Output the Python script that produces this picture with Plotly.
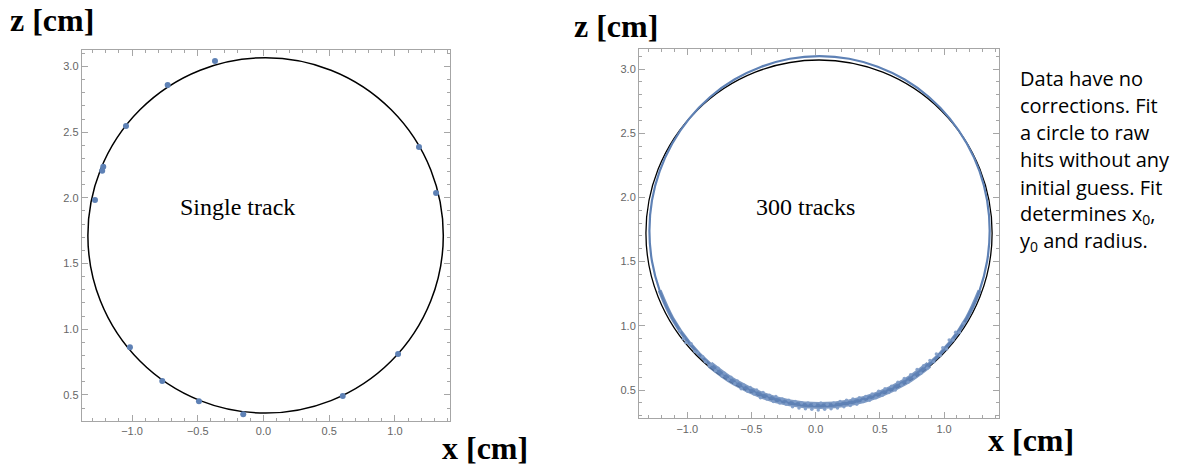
import plotly.graph_objects as go

# ---------------- data ----------------
# single track hits (left panel)
single_x = [-0.369, -0.729, -1.046, -1.219, -1.227, -1.282, -1.016, -0.770,
            -0.491, -0.154, 0.603, 1.024, 1.183, 1.313]
single_z = [3.042, 2.859, 2.547, 2.237, 2.207, 1.984, 0.863, 0.607,
            0.452, 0.353, 0.492, 0.811, 2.387, 2.037]
# fitted circle (left): centre and radius
fit1_x0, fit1_z0, fit1_r = 0.016, 1.714, 1.352

# 300 tracks: hit ring outline (right panel), every 10 degrees
ring_x = [1.355, 1.335, 1.276, 1.177, 1.045, 0.882, 0.693, 0.483, 0.261, 0.030,
          -0.201, -0.423, -0.633, -0.822, -0.985, -1.117, -1.215, -1.275, -1.295,
          -1.275, -1.215, -1.117, -0.985, -0.822, -0.633, -0.423, -0.201, 0.030,
          0.261, 0.483, 0.693, 0.882, 1.045, 1.177, 1.276, 1.335, 1.355]
ring_z = [1.740, 1.977, 2.205, 2.420, 2.614, 2.782, 2.918, 3.018, 3.080, 3.100,
          3.080, 3.018, 2.918, 2.782, 2.614, 2.420, 2.205, 1.977, 1.740,
          1.503, 1.275, 1.060, 0.866, 0.698, 0.562, 0.462, 0.400, 0.380,
          0.400, 0.462, 0.562, 0.698, 0.866, 1.060, 1.275, 1.503, 1.740]
# scattered hits in the lower band (right panel)
band_x = [-1.06, -1.03, -1.01, -0.97, -0.94, -0.92, -0.88, -0.86, -0.83, -0.81,
          -0.78, -0.76, -0.73, -0.71, -0.68, -0.66, -0.63, -0.61, -0.58, -0.56,
          -0.53, -0.51, -0.48, -0.46, -0.43, -0.41, -0.38, -0.36, -0.33, -0.31,
          -0.28, -0.26, -0.23, -0.21, -0.18, -0.16, -0.13, -0.11, -0.08, -0.06,
          -0.03, -0.01, 0.02, 0.04, 0.07, 0.09, 0.12, 0.14, 0.17, 0.19,
          0.22, 0.24, 0.27, 0.29, 0.32, 0.34, 0.37, 0.39, 0.42, 0.44,
          0.47, 0.49, 0.52, 0.54, 0.57, 0.59, 0.62, 0.64, 0.67, 0.69,
          0.72, 0.74, 0.77, 0.79, 0.82, 0.84, 0.87, 0.89, 0.92, 0.94,
          0.97, 0.99, 1.02, 1.04, 1.07, 1.09, 1.12, 1.15]
band_z = [0.96, 0.90, 0.87, 0.86, 0.80, 0.79, 0.76, 0.72, 0.69, 0.70,
          0.65, 0.67, 0.61, 0.63, 0.58, 0.60, 0.55, 0.57, 0.51, 0.54,
          0.49, 0.52, 0.47, 0.50, 0.44, 0.48, 0.43, 0.46, 0.41, 0.45,
          0.40, 0.43, 0.39, 0.42, 0.37, 0.41, 0.36, 0.40, 0.355, 0.40,
          0.35, 0.39, 0.345, 0.40, 0.35, 0.39, 0.355, 0.40, 0.36, 0.41,
          0.37, 0.42, 0.38, 0.43, 0.39, 0.44, 0.41, 0.45, 0.42, 0.47,
          0.44, 0.49, 0.46, 0.51, 0.48, 0.53, 0.50, 0.56, 0.54, 0.59,
          0.56, 0.62, 0.60, 0.66, 0.63, 0.69, 0.67, 0.73, 0.72, 0.78,
          0.77, 0.83, 0.82, 0.89, 0.89, 0.95, 0.95, 1.02]
# fitted circle (right)
fit2_x0, fit2_z0, fit2_r = 0.026, 1.7225, 1.348

x_tickvals = [-1.0, -0.5, 0.0, 0.5, 1.0]
z_tickvals = [0.5, 1.0, 1.5, 2.0, 2.5, 3.0]

note_lines = ["Data have no", "corrections. Fit", "a circle to raw", "hits without any",
              "initial guess. Fit", "determines x<sub>0</sub>,", "y<sub>0</sub> and radius."]

BLUE = "#5E81B5"
FRAME = "#a6a6a6"
TICKFONT = dict(family="Liberation Sans, Arial, sans-serif", size=11, color="#666666")

fig = go.Figure()

fig.add_trace(go.Scatter(x=single_x, y=single_z, mode="markers",
                         marker=dict(color=BLUE, size=6), xaxis="x", yaxis="y",
                         showlegend=False))
# full ring
fig.add_trace(go.Scatter(x=ring_x, y=ring_z, mode="lines",
                         line=dict(color=BLUE, width=2.2, shape="spline"),
                         xaxis="x2", yaxis="y2", showlegend=False))
# wider lower band (200..340 deg) and widest (230..310 deg)
fig.add_trace(go.Scatter(x=ring_x[20:35], y=ring_z[20:35], mode="lines",
                         line=dict(color=BLUE, width=4, shape="spline"), opacity=0.85,
                         xaxis="x2", yaxis="y2", showlegend=False))
fig.add_trace(go.Scatter(x=ring_x[23:32], y=ring_z[23:32], mode="lines",
                         line=dict(color=BLUE, width=7, shape="spline"), opacity=0.8,
                         xaxis="x2", yaxis="y2", showlegend=False))
fig.add_trace(go.Scatter(x=band_x, y=band_z, mode="markers",
                         marker=dict(color="#7d9bc8", size=3.5, opacity=0.9), xaxis="x2", yaxis="y2",
                         showlegend=False))

fig.add_shape(type="circle", xref="x", yref="y",
              x0=fit1_x0 - fit1_r, x1=fit1_x0 + fit1_r,
              y0=fit1_z0 - fit1_r, y1=fit1_z0 + fit1_r,
              line=dict(color="black", width=1.5), layer="below")
fig.add_shape(type="circle", xref="x2", yref="y2",
              x0=fit2_x0 - fit2_r, x1=fit2_x0 + fit2_r,
              y0=fit2_z0 - fit2_r, y1=fit2_z0 + fit2_r,
              line=dict(color="black", width=1.3), layer="below")


def axis_common(tickvals):
    return dict(
        showgrid=False, zeroline=False, showline=True, linecolor=FRAME, linewidth=1,
        mirror="allticks", ticks="inside", ticklen=6, tickcolor=FRAME, tickwidth=1,
        tickvals=tickvals, tickformat=".1f", tickfont=TICKFONT,
        minor=dict(ticks="inside", ticklen=3, tickcolor=FRAME, dtick=0.1, tick0=0.0),
        fixedrange=True,
    )

W, H = 1192, 467
fig.update_layout(
    width=W, height=H, margin=dict(l=0, r=0, t=0, b=0),
    paper_bgcolor="white", plot_bgcolor="white",
    xaxis=dict(domain=[81.7 / W, 450 / W], range=[-1.383, 1.419], anchor="y",
               **axis_common(x_tickvals)),
    yaxis=dict(domain=[1 - 421 / H, 1 - 50 / H], range=[0.302, 3.125], anchor="x",
               **axis_common(z_tickvals)),
    xaxis2=dict(domain=[639 / W, 999.3 / W], range=[-1.376, 1.43], anchor="y2",
                **axis_common(x_tickvals)),
    yaxis2=dict(domain=[1 - 418.3 / H, 1 - 49 / H], range=[0.28, 3.156], anchor="x2",
                **axis_common(z_tickvals)),
)

LABEL = dict(family="Liberation Serif, Times New Roman, serif", size=32, color="black")
TEXT = dict(family="Liberation Serif, Times New Roman, serif", size=24, color="black")
NOTE = dict(family="Open Sans, Lato, sans-serif", size=20, color="black")

anns = [
    dict(text="<b>z [cm]</b>", x=8 / W, y=1 - 20 / H, xanchor="left", yanchor="middle", font=LABEL),
    dict(text="<b>x [cm]</b>", x=440 / W, y=1 - 448 / H, xanchor="left", yanchor="middle", font=LABEL),
    dict(text="<b>z [cm]</b>", x=572 / W, y=1 - 26 / H, xanchor="left", yanchor="middle", font=LABEL),
    dict(text="<b>x [cm]</b>", x=986 / W, y=1 - 440 / H, xanchor="left", yanchor="middle", font=LABEL),
    dict(text="Single track", x=237 / W, y=1 - 207 / H, xanchor="center", yanchor="middle", font=TEXT),
    dict(text="300 tracks", x=805 / W, y=1 - 207 / H, xanchor="center", yanchor="middle", font=TEXT),
]
for i, line in enumerate(note_lines):
    anns.append(dict(text=line, x=1018 / W, y=1 - (79 + 27 * i) / H,
                     xanchor="left", yanchor="middle", align="left", font=NOTE))
for a in anns:
    a.update(xref="paper", yref="paper", showarrow=False)
fig.update_layout(annotations=anns)

fig.write_html("out.html")
